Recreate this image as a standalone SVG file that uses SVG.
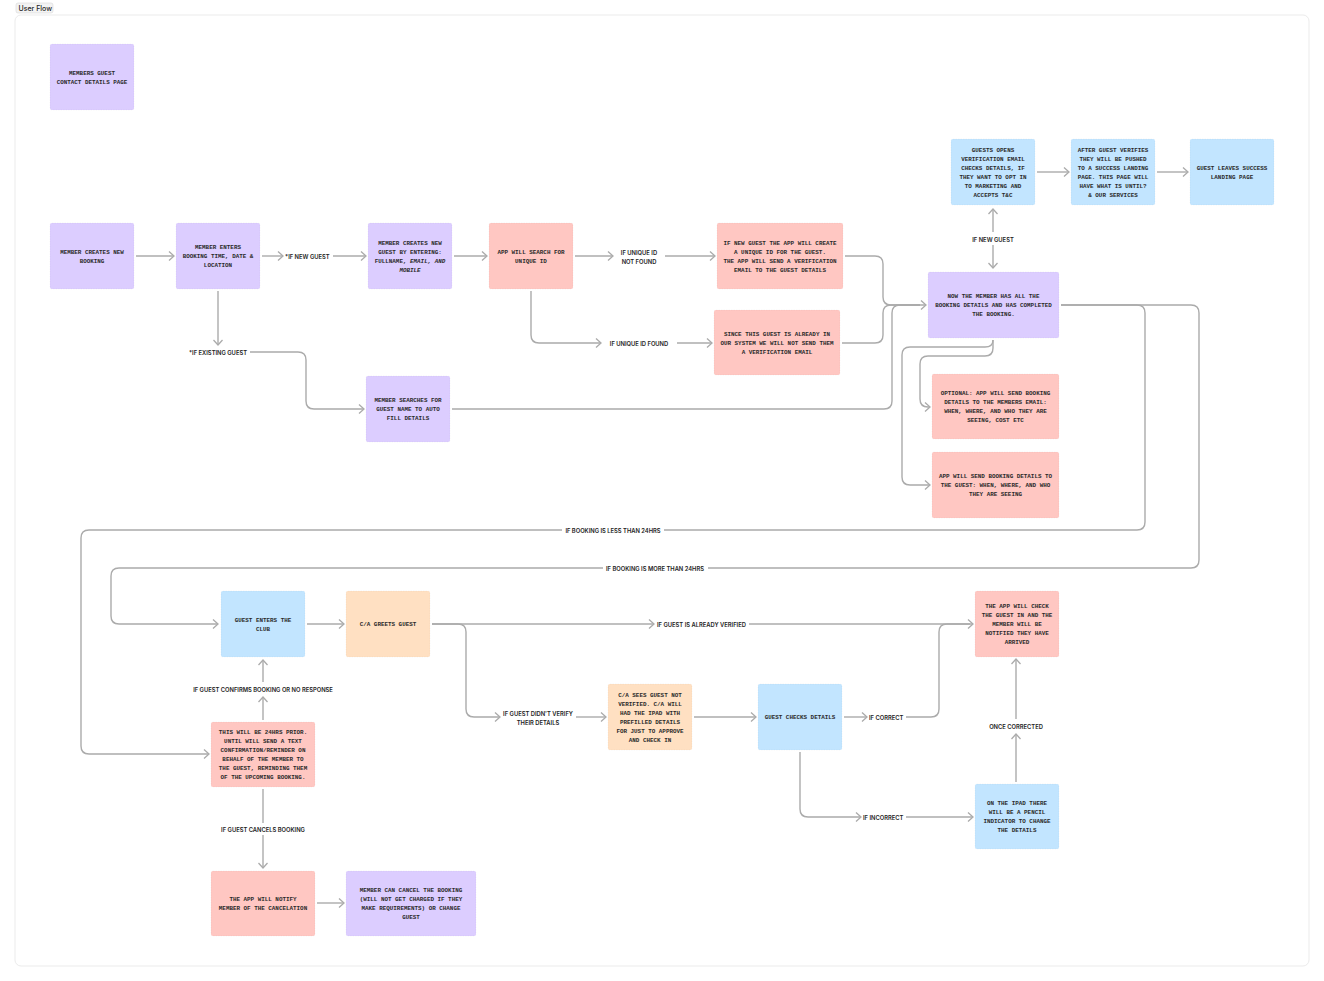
<svg xmlns="http://www.w3.org/2000/svg" width="1324" height="981" viewBox="0 0 1324 981">
<defs>
<style>
.frame{fill:#ffffff;stroke:#ebebeb;stroke-width:1}
.tag{fill:#f3f3f3;stroke:#d9d9d9;stroke-width:0.6}
.tagt{font-family:Inter,"Liberation Sans",sans-serif;font-size:7px;font-weight:500;fill:#1e1e1e}
.n{stroke:rgba(0,0,0,0.06);stroke-width:0.6;stroke-dasharray:1.5 1}
.pu{fill:#dccdff}
.pk{fill:#ffc7c2}
.bl{fill:#c2e5ff}
.or{fill:#ffe0c2}
.t{font-family:"Liberation Mono","DejaVu Sans Mono",monospace;font-size:5.9px;font-weight:bold;fill:#2a2a2a;text-anchor:middle;dominant-baseline:central}
.it{font-style:italic}
.c{fill:none;stroke:#ababab;stroke-width:1.4}
.a{marker-end:url(#arr)}
.l{font-family:Inter,"Liberation Sans",sans-serif;font-size:5.8px;font-weight:600;fill:#222222;dominant-baseline:central}
.lm{text-anchor:middle}
</style>
<marker id="arr" markerUnits="userSpaceOnUse" markerWidth="10" markerHeight="12" viewBox="0 0 10 12" refX="6" refY="6" orient="auto">
<path d="M1,1.5 L6,6 L1,10.5" fill="none" stroke="#ababab" stroke-width="1.3"/>
</marker>
</defs>

<rect x="15" y="15" width="1294" height="951" rx="6" class="frame"/>
<g id="frame-tag">
<rect x="16" y="3" width="37" height="10" rx="2" class="tag"/>
<text x="18.5" y="10.5" class="tagt">User Flow</text>
</g>

<g id="connectors">
<path class="c a" d="M136,256 H174"/>
<path class="c a" d="M262,256 H283"/>
<text class="l" x="285" y="256">*IF NEW GUEST</text>
<path class="c a" d="M333,256 H366"/>
<path class="c a" d="M454,256 H487"/>
<path class="c a" d="M575,256 H613"/>
<text class="l lm" x="639" y="252">IF UNIQUE ID</text>
<text class="l lm" x="639" y="261">NOT FOUND</text>
<path class="c a" d="M665,256 H715"/>
<path class="c a" d="M531,291 V335 Q531,343 539,343 H601"/>
<text class="l lm" x="639" y="343">IF UNIQUE ID FOUND</text>
<path class="c a" d="M677,343 H712"/>
<path class="c a" d="M845,256 H875 Q883,256 883,264 V297 Q883,305 891,305 H926"/>
<path class="c" d="M842,343 H875 Q883,343 883,335 V313 Q883,305 891,305 H920"/>
<path class="c" d="M452,409 H884 Q892,409 892,401 V313 Q892,305 900,305 H920"/>
<path class="c a" d="M993,245 V268"/>
<text class="l lm" x="993" y="239">IF NEW GUEST</text>
<path class="c a" d="M993,232 V209"/>
<path class="c a" d="M1037,172 H1069"/>
<path class="c a" d="M1157,172 H1188"/>
<path class="c a" d="M993,340 V348 Q993,356 985,356 H928 Q920,356 920,364 V399 Q920,407 928,407 H930"/>
<path class="c a" d="M993,340 Q993,347 985,347 H910 Q902,347 902,355 V477 Q902,485 910,485 H930"/>
<path class="c" d="M1061,305 H1137 Q1145,305 1145,313 V522 Q1145,530 1137,530 H664"/>
<text class="l lm" x="613" y="530">IF BOOKING IS LESS THAN 24HRS</text>
<path class="c a" d="M562,530 H89 Q81,530 81,538 V746 Q81,754 89,754 H209"/>
<path class="c" d="M1061,305 H1191 Q1199,305 1199,313 V560 Q1199,568 1191,568 H708"/>
<text class="l lm" x="655" y="568">IF BOOKING IS MORE THAN 24HRS</text>
<path class="c a" d="M603,568 H119 Q111,568 111,576 V616 Q111,624 119,624 H218"/>
<path class="c a" d="M307,624 H344"/>
<path class="c a" d="M432,624 H654"/>
<text class="l" x="657" y="624">IF GUEST IS ALREADY VERIFIED</text>
<path class="c a" d="M749,624 H973"/>
<path class="c a" d="M432,624 H458 Q466,624 466,632 V709 Q466,717 474,717 H500"/>
<text class="l lm" x="538" y="713">IF GUEST DIDN'T VERIFY</text>
<text class="l lm" x="538" y="722">THEIR DETAILS</text>
<path class="c a" d="M576,717 H606"/>
<path class="c a" d="M694,717 H756"/>
<path class="c a" d="M844,717 H867"/>
<text class="l" x="869" y="717">IF CORRECT</text>
<path class="c" d="M906,717 H931 Q939,717 939,709 V632 Q939,624 947,624 H970"/>
<path class="c a" d="M800,752 V809 Q800,817 808,817 H861"/>
<text class="l" x="863" y="817">IF INCORRECT</text>
<path class="c a" d="M906,817 H973"/>
<path class="c a" d="M1016,782 V734"/>
<text class="l lm" x="1016" y="726">ONCE CORRECTED</text>
<path class="c a" d="M1016,719 V659"/>
<path class="c a" d="M263,720 V697"/>
<text class="l lm" x="263" y="689">IF GUEST CONFIRMS BOOKING OR NO RESPONSE</text>
<path class="c a" d="M263,682 V660"/>
<path class="c" d="M263,789 V823"/>
<text class="l lm" x="263" y="829">IF GUEST CANCELS BOOKING</text>
<path class="c a" d="M263,835 V868"/>
<path class="c a" d="M317,903 H344"/>
<path class="c a" d="M218,291 V345"/>
<text class="l lm" x="218" y="352">*IF EXISTING GUEST</text>
<path class="c a" d="M250,352 H298 Q306,352 306,360 V401 Q306,409 314,409 H364"/>
</g>

<g id="n-contact-details">
<rect x="50" y="44" width="84" height="66" rx="2" class="n pu"/>
<text class="t"><tspan x="92" y="72.5">MEMBERS GUEST</tspan><tspan x="92" y="81.5">CONTACT DETAILS PAGE</tspan></text>
</g>
<g id="n-create-booking">
<rect x="50" y="223" width="84" height="66" rx="2" class="n pu"/>
<text class="t"><tspan x="92" y="251.5">MEMBER CREATES NEW</tspan><tspan x="92" y="260.5">BOOKING</tspan></text>
</g>
<g id="n-enter-booking">
<rect x="176" y="223" width="84" height="66" rx="2" class="n pu"/>
<text class="t"><tspan x="218" y="247">MEMBER ENTERS</tspan><tspan x="218" y="256">BOOKING TIME, DATE &amp;</tspan><tspan x="218" y="265">LOCATION</tspan></text>
</g>
<g id="n-create-guest">
<rect x="368" y="223" width="84" height="66" rx="2" class="n pu"/>
<text class="t"><tspan x="410" y="242.5">MEMBER CREATES NEW</tspan><tspan x="410" y="251.5">GUEST BY ENTERING:</tspan><tspan x="410" y="260.5">FULLNAME, <tspan class="it">EMAIL, AND</tspan></tspan><tspan x="410" y="269.5" class="it">MOBILE</tspan></text>
</g>
<g id="n-search-id">
<rect x="489" y="223" width="84" height="66" rx="2" class="n pk"/>
<text class="t"><tspan x="531" y="251.5">APP WILL SEARCH FOR</tspan><tspan x="531" y="260.5">UNIQUE ID</tspan></text>
</g>
<g id="n-new-id">
<rect x="717" y="223" width="126" height="66" rx="2" class="n pk"/>
<text class="t"><tspan x="780" y="242.5">IF NEW GUEST THE APP WILL CREATE</tspan><tspan x="780" y="251.5">A UNIQUE ID FOR THE GUEST.</tspan><tspan x="780" y="260.5">THE APP WILL SEND A VERIFICATION</tspan><tspan x="780" y="269.5">EMAIL TO THE GUEST DETAILS</tspan></text>
</g>
<g id="n-already">
<rect x="714" y="310" width="126" height="65" rx="2" class="n pk"/>
<text class="t"><tspan x="777" y="334">SINCE THIS GUEST IS ALREADY IN</tspan><tspan x="777" y="343">OUR SYSTEM WE WILL NOT SEND THEM</tspan><tspan x="777" y="352">A VERIFICATION EMAIL</tspan></text>
</g>
<g id="n-search-guest">
<rect x="366" y="376" width="84" height="66" rx="2" class="n pu"/>
<text class="t"><tspan x="408" y="400">MEMBER SEARCHES FOR</tspan><tspan x="408" y="409">GUEST NAME TO AUTO</tspan><tspan x="408" y="418">FILL DETAILS</tspan></text>
</g>
<g id="n-open-email">
<rect x="951" y="139" width="84" height="66" rx="2" class="n bl"/>
<text class="t"><tspan x="993" y="149.5">GUESTS OPENS</tspan><tspan x="993" y="158.5">VERIFICATION EMAIL</tspan><tspan x="993" y="167.5">CHECKS DETAILS, IF</tspan><tspan x="993" y="176.5">THEY WANT TO OPT IN</tspan><tspan x="993" y="185.5">TO MARKETING AND</tspan><tspan x="993" y="194.5">ACCEPTS T&amp;C</tspan></text>
</g>
<g id="n-verified">
<rect x="1071" y="139" width="84" height="66" rx="2" class="n bl"/>
<text class="t"><tspan x="1113" y="149.5">AFTER GUEST VERIFIES</tspan><tspan x="1113" y="158.5">THEY WILL BE PUSHED</tspan><tspan x="1113" y="167.5">TO A SUCCESS LANDING</tspan><tspan x="1113" y="176.5">PAGE. THIS PAGE WILL</tspan><tspan x="1113" y="185.5">HAVE WHAT IS UNTIL?</tspan><tspan x="1113" y="194.5">&amp; OUR SERVICES</tspan></text>
</g>
<g id="n-leaves">
<rect x="1190" y="139" width="84" height="66" rx="2" class="n bl"/>
<text class="t"><tspan x="1232" y="167.5">GUEST LEAVES SUCCESS</tspan><tspan x="1232" y="176.5">LANDING PAGE</tspan></text>
</g>
<g id="n-completed">
<rect x="928" y="272" width="131" height="66" rx="2" class="n pu"/>
<text class="t"><tspan x="993.5" y="296">NOW THE MEMBER HAS ALL THE</tspan><tspan x="993.5" y="305">BOOKING DETAILS AND HAS COMPLETED</tspan><tspan x="993.5" y="314">THE BOOKING.</tspan></text>
</g>
<g id="n-optional">
<rect x="932" y="374" width="127" height="65" rx="2" class="n pk"/>
<text class="t"><tspan x="995.5" y="393">OPTIONAL: APP WILL SEND BOOKING</tspan><tspan x="995.5" y="402">DETAILS TO THE MEMBERS EMAIL:</tspan><tspan x="995.5" y="411">WHEN, WHERE, AND WHO THEY ARE</tspan><tspan x="995.5" y="420">SEEING, COST ETC</tspan></text>
</g>
<g id="n-send-guest">
<rect x="932" y="452" width="127" height="66" rx="2" class="n pk"/>
<text class="t"><tspan x="995.5" y="476">APP WILL SEND BOOKING DETAILS TO</tspan><tspan x="995.5" y="485">THE GUEST: WHEN, WHERE, AND WHO</tspan><tspan x="995.5" y="494">THEY ARE SEEING</tspan></text>
</g>
<g id="n-enters-club">
<rect x="221" y="591" width="84" height="66" rx="2" class="n bl"/>
<text class="t"><tspan x="263" y="619.5">GUEST ENTERS THE</tspan><tspan x="263" y="628.5">CLUB</tspan></text>
</g>
<g id="n-greets">
<rect x="346" y="591" width="84" height="66" rx="2" class="n or"/>
<text class="t"><tspan x="388" y="624">C/A GREETS GUEST</tspan></text>
</g>
<g id="n-not-verified">
<rect x="608" y="684" width="84" height="66" rx="2" class="n or"/>
<text class="t"><tspan x="650" y="694.5">C/A SEES GUEST NOT</tspan><tspan x="650" y="703.5">VERIFIED. C/A WILL</tspan><tspan x="650" y="712.5">HAD THE IPAD WITH</tspan><tspan x="650" y="721.5">PREFILLED DETAILS</tspan><tspan x="650" y="730.5">FOR JUST TO APPROVE</tspan><tspan x="650" y="739.5">AND CHECK IN</tspan></text>
</g>
<g id="n-checks">
<rect x="758" y="684" width="84" height="66" rx="2" class="n bl"/>
<text class="t"><tspan x="800" y="717">GUEST CHECKS DETAILS</tspan></text>
</g>
<g id="n-check-in">
<rect x="975" y="591" width="84" height="66" rx="2" class="n pk"/>
<text class="t"><tspan x="1017" y="606">THE APP WILL CHECK</tspan><tspan x="1017" y="615">THE GUEST IN AND THE</tspan><tspan x="1017" y="624">MEMBER WILL BE</tspan><tspan x="1017" y="633">NOTIFIED THEY HAVE</tspan><tspan x="1017" y="642">ARRIVED</tspan></text>
</g>
<g id="n-ipad">
<rect x="975" y="784" width="84" height="65" rx="2" class="n bl"/>
<text class="t"><tspan x="1017" y="803">ON THE IPAD THERE</tspan><tspan x="1017" y="812">WILL BE A PENCIL</tspan><tspan x="1017" y="821">INDICATOR TO CHANGE</tspan><tspan x="1017" y="830">THE DETAILS</tspan></text>
</g>
<g id="n-reminder">
<rect x="211" y="722" width="104" height="65" rx="2" class="n pk"/>
<text class="t"><tspan x="263" y="732">THIS WILL BE 24HRS PRIOR.</tspan><tspan x="263" y="741">UNTIL WILL SEND A TEXT</tspan><tspan x="263" y="750">CONFIRMATION/REMINDER ON</tspan><tspan x="263" y="759">BEHALF OF THE MEMBER TO</tspan><tspan x="263" y="768">THE GUEST, REMINDING THEM</tspan><tspan x="263" y="777">OF THE UPCOMING BOOKING.</tspan></text>
</g>
<g id="n-notify-cancel">
<rect x="211" y="871" width="104" height="65" rx="2" class="n pk"/>
<text class="t"><tspan x="263" y="899">THE APP WILL NOTIFY</tspan><tspan x="263" y="908">MEMBER OF THE CANCELATION</tspan></text>
</g>
<g id="n-member-cancel">
<rect x="346" y="871" width="130" height="65" rx="2" class="n pu"/>
<text class="t"><tspan x="411" y="890">MEMBER CAN CANCEL THE BOOKING</tspan><tspan x="411" y="899">(WILL NOT GET CHARGED IF THEY</tspan><tspan x="411" y="908">MAKE REQUIREMENTS) OR CHANGE</tspan><tspan x="411" y="917">GUEST</tspan></text>
</g>
</svg>
